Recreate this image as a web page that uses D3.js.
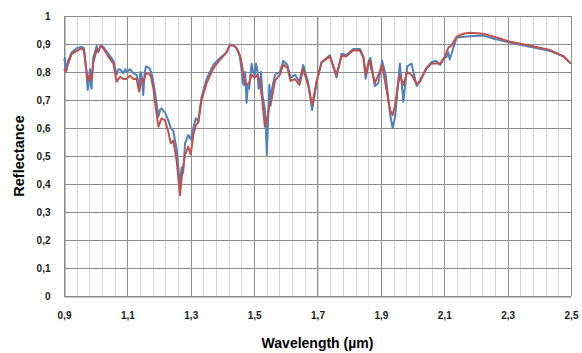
<!DOCTYPE html>
<html>
<head>
<meta charset="utf-8">
<script src="https://cdn.jsdelivr.net/npm/d3@7"></script>
<style>
  body { margin: 0; background: #fff; }
  svg { display: block; font-family: 'Liberation Sans', Arial, sans-serif; }
</style>
</head>
<body>
<div id="chart"></div>
<script>
// Reflectance spectra, [wavelength µm, reflectance]
const blueSeries = [
  [0.9, 0.84], [0.903, 0.85], [0.906, 0.80], [0.913, 0.84], [0.924, 0.87], [0.94, 0.885],
  [0.956, 0.89], [0.963, 0.885], [0.97, 0.81], [0.975, 0.736], [0.979, 0.78], [0.982, 0.81],
  [0.985, 0.75], [0.987, 0.74], [0.992, 0.85], [1.0, 0.88], [1.003, 0.893], [1.008, 0.87],
  [1.016, 0.895], [1.024, 0.89], [1.04, 0.865], [1.056, 0.84], [1.066, 0.79], [1.072, 0.81],
  [1.077, 0.81], [1.087, 0.795], [1.093, 0.81], [1.098, 0.80], [1.108, 0.81], [1.119, 0.795],
  [1.129, 0.79], [1.137, 0.745], [1.141, 0.80], [1.145, 0.79], [1.15, 0.718], [1.155, 0.80],
  [1.159, 0.82], [1.169, 0.815], [1.175, 0.80], [1.182, 0.765], [1.192, 0.69], [1.198, 0.64],
  [1.203, 0.665], [1.208, 0.67], [1.219, 0.655], [1.229, 0.627], [1.237, 0.60], [1.245, 0.59],
  [1.256, 0.52], [1.266, 0.39], [1.271, 0.46], [1.276, 0.44], [1.282, 0.545], [1.292, 0.575],
  [1.3, 0.56], [1.308, 0.60], [1.316, 0.635], [1.324, 0.625], [1.334, 0.71], [1.35, 0.775],
  [1.371, 0.825], [1.392, 0.85], [1.413, 0.87], [1.424, 0.898], [1.435, 0.895], [1.445, 0.885],
  [1.455, 0.855], [1.46, 0.81], [1.464, 0.76], [1.468, 0.754], [1.472, 0.80], [1.476, 0.69],
  [1.48, 0.75], [1.484, 0.74], [1.492, 0.83], [1.497, 0.80], [1.502, 0.79], [1.506, 0.83],
  [1.51, 0.81], [1.514, 0.74], [1.518, 0.75], [1.522, 0.80], [1.526, 0.72], [1.534, 0.665],
  [1.537, 0.60], [1.54, 0.504], [1.544, 0.62], [1.548, 0.754], [1.552, 0.68], [1.555, 0.73],
  [1.56, 0.76], [1.566, 0.79], [1.581, 0.80], [1.592, 0.84], [1.605, 0.825], [1.615, 0.78],
  [1.629, 0.79], [1.643, 0.765], [1.655, 0.825], [1.671, 0.76], [1.683, 0.664], [1.698, 0.77],
  [1.713, 0.835], [1.739, 0.86], [1.76, 0.78], [1.776, 0.865], [1.79, 0.86], [1.813, 0.882],
  [1.834, 0.882], [1.845, 0.855], [1.852, 0.776], [1.863, 0.84], [1.867, 0.85], [1.881, 0.75],
  [1.892, 0.76], [1.904, 0.84], [1.915, 0.79], [1.929, 0.65], [1.937, 0.60], [1.945, 0.64],
  [1.952, 0.73], [1.96, 0.83], [1.971, 0.694], [1.983, 0.82], [1.997, 0.83], [2.013, 0.75],
  [2.023, 0.77], [2.044, 0.815], [2.06, 0.835], [2.074, 0.84], [2.087, 0.825], [2.1, 0.85],
  [2.108, 0.855], [2.113, 0.87], [2.117, 0.845], [2.123, 0.865], [2.139, 0.923], [2.18, 0.928],
  [2.223, 0.93], [2.26, 0.918], [2.307, 0.905], [2.37, 0.89], [2.433, 0.876], [2.476, 0.856],
  [2.5, 0.83]
]

const redSeries = [
  [0.9, 0.81], [0.906, 0.80], [0.913, 0.83], [0.924, 0.865], [0.94, 0.875], [0.956, 0.885],
  [0.963, 0.875], [0.97, 0.81], [0.975, 0.77], [0.982, 0.79], [0.987, 0.77], [0.992, 0.83],
  [1.003, 0.88], [1.008, 0.875], [1.016, 0.893], [1.024, 0.885], [1.04, 0.855], [1.056, 0.83],
  [1.066, 0.765], [1.077, 0.783], [1.087, 0.775], [1.098, 0.776], [1.108, 0.787], [1.119, 0.775],
  [1.129, 0.775], [1.137, 0.73], [1.145, 0.775], [1.15, 0.765], [1.159, 0.795], [1.169, 0.795],
  [1.175, 0.78], [1.182, 0.742], [1.192, 0.652], [1.198, 0.605], [1.208, 0.634], [1.219, 0.627],
  [1.229, 0.587], [1.237, 0.545], [1.245, 0.555], [1.256, 0.48], [1.266, 0.36], [1.271, 0.42],
  [1.282, 0.504], [1.292, 0.533], [1.3, 0.506], [1.308, 0.575], [1.316, 0.61], [1.324, 0.62],
  [1.334, 0.70], [1.35, 0.76], [1.371, 0.813], [1.392, 0.843], [1.413, 0.87], [1.424, 0.896],
  [1.435, 0.895], [1.445, 0.885], [1.455, 0.86], [1.46, 0.837], [1.468, 0.78], [1.476, 0.754],
  [1.484, 0.76], [1.492, 0.79], [1.502, 0.78], [1.51, 0.79], [1.518, 0.77], [1.526, 0.694],
  [1.534, 0.605], [1.54, 0.63], [1.548, 0.676], [1.555, 0.70], [1.566, 0.77], [1.581, 0.79],
  [1.592, 0.827], [1.605, 0.815], [1.615, 0.768], [1.629, 0.775], [1.643, 0.754], [1.655, 0.81],
  [1.671, 0.75], [1.683, 0.682], [1.698, 0.77], [1.713, 0.835], [1.739, 0.855], [1.76, 0.79],
  [1.776, 0.858], [1.79, 0.855], [1.813, 0.878], [1.834, 0.877], [1.845, 0.85], [1.852, 0.79],
  [1.863, 0.843], [1.881, 0.76], [1.892, 0.79], [1.904, 0.825], [1.915, 0.754], [1.929, 0.664],
  [1.937, 0.646], [1.945, 0.68], [1.952, 0.742], [1.96, 0.79], [1.971, 0.754], [1.983, 0.80],
  [1.997, 0.79], [2.013, 0.756], [2.023, 0.765], [2.044, 0.813], [2.06, 0.83], [2.087, 0.83],
  [2.102, 0.855], [2.113, 0.887], [2.123, 0.895], [2.139, 0.926], [2.16, 0.937], [2.18, 0.94],
  [2.223, 0.937], [2.26, 0.925], [2.307, 0.908], [2.37, 0.895], [2.433, 0.879], [2.476, 0.856],
  [2.5, 0.83]
]

const xTicks = [0.9, 1.1, 1.3, 1.5, 1.7, 1.9, 2.1, 2.3, 2.5]
const xMinorTicks = d3.range(0.9, 2.5001, 0.04)
const yTicks = [0, 0.1, 0.2, 0.3, 0.4, 0.5, 0.6, 0.7, 0.8, 0.9, 1]

const width = 582
const height = 353
const margin = { top: 16, right: 11, bottom: 57, left: 64 }

// comma as decimal separator
const locale = d3.formatLocale({ decimal: ',', thousands: '.', grouping: [3], currency: ['', ''] })
const fmt = locale.format('.1~f')

const x = d3.scaleLinear().domain([0.9, 2.5]).range([margin.left, width - margin.right])
const y = d3.scaleLinear().domain([0, 1]).range([height - margin.bottom, margin.top])

const svg = d3.select('#chart')
  .append('svg')
  .attr('width', width)
  .attr('height', height)

// minor vertical gridlines
svg.append('g')
  .selectAll('line')
  .data(xMinorTicks)
  .join('line')
  .attr('x1', d => Math.round(x(d)) + 0.5)
  .attr('x2', d => Math.round(x(d)) + 0.5)
  .attr('y1', y(1))
  .attr('y2', y(0))
  .attr('stroke', '#d6d6d6')

// major vertical gridlines
svg.append('g')
  .selectAll('line')
  .data(xTicks)
  .join('line')
  .attr('x1', d => Math.round(x(d)) + 0.5)
  .attr('x2', d => Math.round(x(d)) + 0.5)
  .attr('y1', y(1))
  .attr('y2', y(0))
  .attr('stroke', '#8e8e8e')

// horizontal gridlines
svg.append('g')
  .selectAll('line')
  .data(yTicks)
  .join('line')
  .attr('x1', x(0.9))
  .attr('x2', x(2.5))
  .attr('y1', d => Math.round(y(d)) + 0.5)
  .attr('y2', d => Math.round(y(d)) + 0.5)
  .attr('stroke', '#8e8e8e')

// Y axis
svg.append('g')
  .attr('transform', `translate(${Math.round(x(0.9)) + 0.5},0)`)
  .call(d3.axisLeft(y).tickValues(yTicks).tickSize(0).tickPadding(14).tickFormat(fmt))
  .call(g => g.select('.domain').attr('stroke', '#868686'))
  .call(g => g.selectAll('.tick text')
    .attr('font-size', '10px')
    .attr('font-weight', 'bold')
    .attr('fill', '#1a1a1a'))

// X axis
svg.append('g')
  .attr('transform', `translate(0,${Math.round(y(0)) + 0.5})`)
  .call(d3.axisBottom(x).tickValues(xTicks).tickSize(0).tickPadding(15).tickFormat(fmt))
  .call(g => g.select('.domain').attr('stroke', '#868686'))
  .call(g => g.selectAll('.tick text')
    .attr('font-size', '10px')
    .attr('font-weight', 'bold')
    .attr('fill', '#1a1a1a'))

const line = d3.line()
  .x(d => x(d[0]))
  .y(d => y(d[1]))

svg.append('path')
  .datum(blueSeries)
  .attr('fill', 'none')
  .attr('stroke', '#4f81bd')
  .attr('stroke-width', 2)
  .attr('stroke-linejoin', 'round')
  .attr('d', line)

svg.append('path')
  .datum(redSeries)
  .attr('fill', 'none')
  .attr('stroke', '#c0504d')
  .attr('stroke-width', 2)
  .attr('stroke-linejoin', 'round')
  .attr('d', line)

// axis titles
svg.append('text')
  .attr('transform', `translate(24,${(y(0) + y(1)) / 2}) rotate(-90)`)
  .attr('text-anchor', 'middle')
  .attr('font-size', '14.5px')
  .attr('font-weight', 'bold')
  .attr('fill', '#000')
  .text('Reflectance')

svg.append('text')
  .attr('x', (x(0.9) + x(2.5)) / 2)
  .attr('y', 348)
  .attr('text-anchor', 'middle')
  .attr('font-size', '14px')
  .attr('font-weight', 'bold')
  .attr('fill', '#000')
  .text('Wavelength (µm)')
</script>
</body>
</html>
